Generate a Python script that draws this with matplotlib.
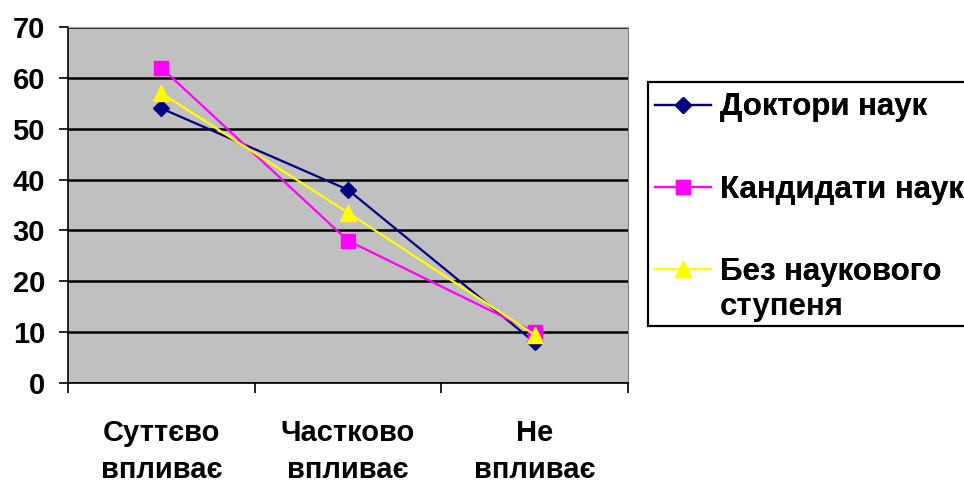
import matplotlib.pyplot as plt
from matplotlib.patches import Rectangle

plt.rcParams['font.family'] = ['Liberation Sans', 'DejaVu Sans']
plt.rcParams['font.weight'] = 'bold'

categories = ['Суттєво\nвпливає', 'Частково\nвпливає', 'Не\nвпливає']
doktory = [54, 38, 8]
kandydaty = [62, 28, 10]
bez_stupenya = [57, 33.5, 9.5]
labels = ['Доктори наук', 'Кандидати наук', 'Без наукового\nступеня']
y_ticks = [0, 10, 20, 30, 40, 50, 60, 70]

FS = 21
FS_LEG = 22.5

fig = plt.figure(figsize=(9.64, 4.82), dpi=100)
ax = fig.add_axes([0.0705, 0.2054, 0.5808, 0.7386])
ax.set_facecolor('#C0C0C0')

x = range(len(categories))
l1, = ax.plot(x, doktory, color='#000080', marker='D', markersize=8, lw=1.6, zorder=3)
l2, = ax.plot(x, kandydaty, color='#FF00FF', marker='s', markersize=10, lw=1.6, zorder=3)
l3, = ax.plot(x, bez_stupenya, color='#FFFF00', marker='^', markersize=11, lw=1.6, zorder=4)

ax.set_xlim(-0.5, 2.5)
ax.set_ylim(0, 70)
ax.set_yticks(y_ticks)
ax.yaxis.grid(True, color='black', lw=1.8)
ax.set_axisbelow(True)

ax.set_xticks(list(x))
ax.set_xticklabels(categories, fontsize=FS, fontweight='bold', linespacing=1.4)
ax.set_xticks([-0.5, 0.5, 1.5, 2.5], minor=True)
ax.tick_params(axis='x', which='major', length=0, pad=26)
ax.tick_params(axis='x', which='minor', length=7, width=1.2, direction='out')
ax.tick_params(axis='y', length=6.5, width=1.2, labelsize=FS, pad=10)
for lab in ax.get_yticklabels():
    lab.set_fontweight('bold')

ax.spines['top'].set_color('#A0A0A0')
ax.spines['right'].set_color('#808080')
ax.spines['left'].set_linewidth(1.2)
ax.spines['bottom'].set_linewidth(1.2)

# legend box (runs off the right edge like the original)
fig.add_artist(Rectangle((0.672, 0.3237), 0.4, 0.5062, transform=fig.transFigure,
                         facecolor='white', edgecolor='black', lw=1.6, zorder=1))

rows = [(l1, labels[0], 0.777), (l2, labels[1], 0.606), (l3, labels[2].split('\n')[0], 0.436)]
for h, lab, yy in rows:
    lg = fig.legend([h], [lab], loc='center left', bbox_to_anchor=(0.6795, yy),
                    frameon=False, fontsize=FS_LEG, handlelength=1.8, handletextpad=0.28,
                    borderpad=0, borderaxespad=0)
    lg.set_zorder(2)
    for t in lg.get_texts():
        t.set_fontweight('bold')
    fig.add_artist(lg)
fig.text(0.747, 0.364, labels[2].split('\n')[1], fontsize=FS_LEG, fontweight='bold',
         va='center', ha='left', zorder=2)

fig.savefig('out.png', dpi=100)
